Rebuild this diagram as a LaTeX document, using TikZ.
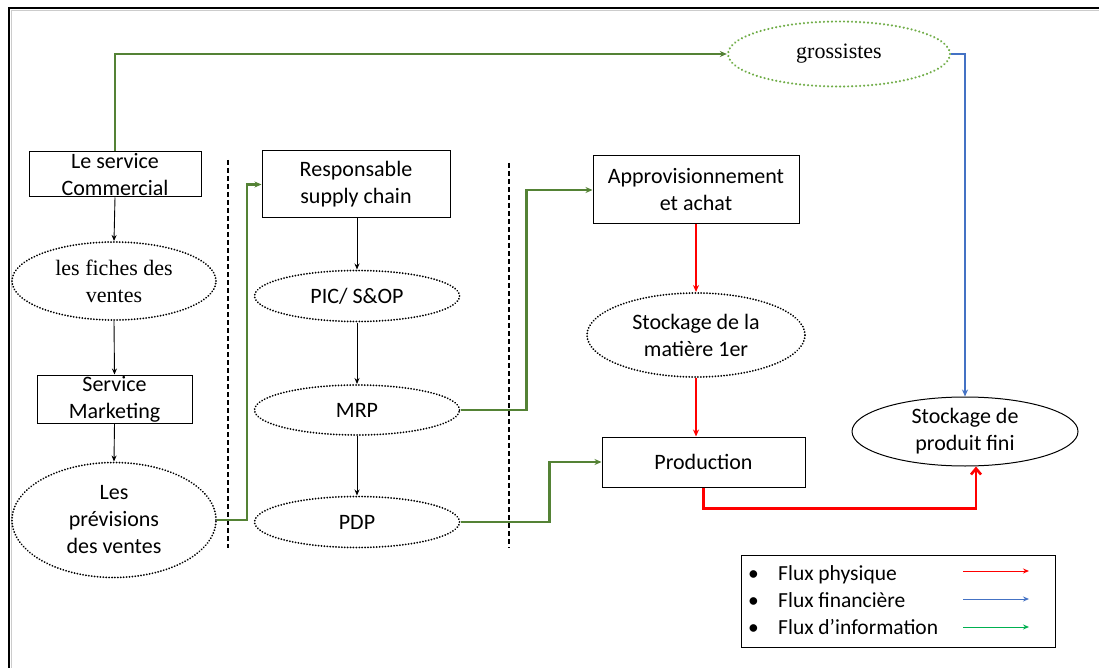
\documentclass[tikz,border=0pt]{standalone}
\usepackage{fontspec}
\setmainfont{Carlito}
\newfontfamily\tms{Liberation Serif}
\usetikzlibrary{shapes.geometric,arrows.meta,calc}
\definecolor{infogreen}{HTML}{548235}
\definecolor{lightgreen}{HTML}{70AD47}
\definecolor{legendgreen}{HTML}{00B050}
\definecolor{finblue}{HTML}{4472C4}
\definecolor{physred}{HTML}{FF0000}
\tikzset{
  txt/.style={font=\fontsize{22}{27}\selectfont, align=center, inner xsep=0pt, inner ysep=-3pt},
  sbox/.style={txt, draw, line width=1pt},
  dotell/.style={txt, ellipse, draw, line width=2pt, line cap=round, dash pattern=on 0.01pt off 2.9pt},
  plainell/.style={txt, ellipse, draw, line width=1pt},
  blk/.style={draw, line width=0.9pt, -{Stealth[length=6pt,width=5pt]}},
  info/.style={draw=infogreen, line width=2.2pt, -{Stealth[length=7pt,width=6pt]}},
  phys/.style={draw=physred, line width=2.4pt, -{Stealth[length=7pt,width=6pt]}},
  fin/.style={draw=finblue, line width=2.2pt, -{Stealth[length=7pt,width=6pt]}},
  sep/.style={draw, line width=1.6pt, dash pattern=on 5pt off 3pt},
  legtxt/.style={font=\fontsize{21.5}{26}\selectfont, anchor=base west, inner sep=0pt},
}
\begin{document}
\begin{tikzpicture}[x=1pt, y=-1pt]
\useasboundingbox (0,0) rectangle (1099,668);
\fill[white] (0,0) rectangle (1099,668);
% outer frame
\draw[gray!40, line width=1.5pt] (11.5,668) -- (11.5,10.5) -- (1099,10.5);
\draw[line width=2pt] (9,668) -- (9,8) -- (1099,8);

% commercial column
\node[sbox, minimum width=172pt, minimum height=45pt] (com) at (115,174.5) {Le service\\Commercial};
\node[dotell, minimum width=204pt, minimum height=78pt] (fiches) at (114,281) {\tms les fiches des\\\tms ventes};
\node[sbox, minimum width=155pt, minimum height=48pt] (mkt) at (114.5,399) {Service\\Marketing};
\node[dotell, minimum width=204pt, minimum height=115pt] (prev) at (114,520) {Les\\prévisions\\des ventes};

% planning column
\node[sbox, minimum width=188pt, minimum height=67pt] (resp) at (356,184.5) {Responsable\\supply chain};
\node[dotell, minimum width=205pt, minimum height=51pt] (pic) at (357,296) {PIC/ S\&OP};
\node[dotell, minimum width=205pt, minimum height=50pt] (mrp) at (357,410) {MRP};
\node[dotell, minimum width=205pt, minimum height=51pt] (pdp) at (357,522) {PDP};

% operations column
\node[sbox, minimum width=206pt, minimum height=68pt] (appro) at (696,190) {Approvisionnement\\et achat};
\node[dotell, minimum width=218pt, minimum height=84pt] (smat) at (696,335) {Stockage de la\\matière 1er};
\node[sbox, minimum width=203pt, minimum height=50pt] (prod) at (703.5,462) {Production};

% distribution
\node[txt, ellipse, draw=lightgreen, line width=2.4pt, line cap=round, dash pattern=on 0.01pt off 4pt, minimum width=222pt, minimum height=65pt] (gros) at (839,54) {\tms grossistes};
\node[plainell, minimum width=226pt, minimum height=69pt] (spf) at (965,431.5) {Stockage de\\produit fini};

% separators
\draw[sep] (228,160) -- (228,548);
\draw[sep] (509,163) -- (509,548);

% black flows
\draw[blk] (com.south) -- (fiches.north);
\draw[blk] (fiches.south) -- (mkt.north);
\draw[blk] (mkt.south) -- (prev.north);
\draw[blk] (resp.south -| pic.north) -- (pic.north);
\draw[blk] (pic.south) -- (mrp.north);
\draw[blk] (mrp.south) -- (pdp.north);

% information flows
\draw[info] (com.north) |- (gros.west);
\draw[info] (prev.east) -- ++(30,0) |- (resp.west);
\draw[info] (mrp.east) -- ++(66,0) |- (appro.west);
\draw[info] (pdp.east) -- ++(89,0) |- (prod.west);

% physical flows
\draw[phys] (appro.south -| smat.north) -- (smat.north);
\draw[phys] (smat.south) -- (smat.south |- prod.north);
\draw[draw=physred, line width=2.6pt, -{Straight Barb[length=6pt,width=10pt,line width=2.6pt]}] (prod.south) -- ++(0,21) -| ($(spf.south)+(11,0)$);

% financial flow
\draw[fin] (gros.east) -| (spf.north);

% legend
\node[draw, line width=1pt, minimum width=314pt, minimum height=92pt, inner sep=0pt] (leg) at (898,601) {};
\node[legtxt] (b1) at (748,580) {\textbullet};
\node[legtxt] (b2) at (748,607) {\textbullet};
\node[legtxt] (b3) at (748,634) {\textbullet};
\node[legtxt] (l1) at (778,580) {Flux physique};
\node[legtxt] (l2) at (778,607) {Flux financière};
\node[legtxt] (l3) at (778,634) {Flux d’information};
\coordinate (a1s) at (963,571); \coordinate (a1e) at (1029,571);
\coordinate (a2s) at (963,599); \coordinate (a2e) at (1029,599);
\coordinate (a3s) at (963,627); \coordinate (a3e) at (1029,627);
\draw[physred, line width=1pt, -{Stealth[length=6pt,width=5pt]}] (a1s) -- (a1e);
\draw[finblue, line width=1pt, -{Stealth[length=6pt,width=5pt]}] (a2s) -- (a2e);
\draw[legendgreen, line width=1pt, -{Stealth[length=6pt,width=5pt]}] (a3s) -- (a3e);
\end{tikzpicture}
\end{document}
